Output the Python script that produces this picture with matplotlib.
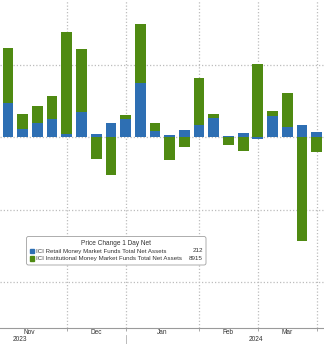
import numpy as np
import matplotlib.pyplot as plt
from matplotlib.patches import FancyBboxPatch, Rectangle

# weekly flows (USD bn)
retail = [23.9, 5.9, 9.7, 12.4, 2.1, 17.7, 2.5, 9.7, 12.4, 37.2, 4.6,
          1.4, 4.8, 8.3, 13.3, 0.7, 3.0, -1.5, 14.5, 7.1, 8.7, 3.7]
institutional = [37.9, 10.4, 11.7, 16.1, 70.3, 43.4, -14.8, -26.2, 3.2, 40.9, 5.5,
                 -15.9, -6.7, 32.8, 3.0, -5.3, -9.4, 50.3, 3.6, 23.7, -71.5, -10.1]
months = ['Nov', 'Dec', 'Jan', 'Feb', 'Mar']
month_pos = [1.43, 5.99, 10.48, 14.97, 18.98]
month_lines = [4, 8, 13, 17, 21]
years = ['2023', '2024']
year_pos = [0.8, 16.9]
legend_title = 'Price Change 1 Day Net'
legend_labels = ['ICI Retail Money Market Funds Total Net Assets',
                 'ICI Institutional Money Market Funds Total Net Assets']
legend_values = ['212', '8915']

blue = '#2e6fb3'
green = '#4f8a12'
font = 'Liberation Sans'

W, H = 324, 344
fig = plt.figure(figsize=(W / 100, H / 100), dpi=100)
ax = fig.add_axes([0, (H - 327.7) / H, 1, 327.7 / H])

x = np.arange(len(retail))
r = np.array(retail)
g = np.array(institutional)
g_bottom = np.where(g >= 0, np.maximum(r, 0), np.minimum(r, 0))

ax.bar(x, r, width=0.73, color=blue, zorder=3)
ax.bar(x, g, bottom=g_bottom, width=0.73, color=green, zorder=3)

ax.set_xlim(-0.544, 21.5)
ax.set_ylim(-131.3, 94.7)

for v in [50, 0, -50, -100]:
    ax.axhline(v, color='#bdbdbd', lw=0.9, ls=(0, (1, 1.6)), zorder=1)
for m in month_lines:
    ax.axvline(m, color='#bdbdbd', lw=0.9, ls=(0, (1, 1.6)), zorder=1)

for s in ['top', 'left', 'right']:
    ax.spines[s].set_visible(False)
ax.spines['bottom'].set_color('#9a9a9a')
ax.spines['bottom'].set_linewidth(0.8)
ax.set_yticks([])
ax.set_xticks(month_lines)
ax.set_xticklabels([])
ax.tick_params(axis='x', length=2.5, color='#9a9a9a', width=0.6)

def fx(px):
    return px / W

def fy(py):
    return 1 - py / H

for name, p in zip(months, month_pos):
    xf = ax.transData.transform((p, 0))[0] / W
    fig.text(xf, fy(332.5), name, ha='center', va='center', fontsize=4.7,
             family=font, color='#333333')
for name, p in zip(years, year_pos):
    xf = ax.transData.transform((p, 0))[0] / W
    fig.text(xf, fy(339.5), name, ha='center', va='center', fontsize=4.7,
             family=font, color='#333333')
fig.add_artist(plt.Line2D([fx(126), fx(126)], [fy(335), fy(344)],
                          color='#b0b0b0', lw=0.6))

# legend box
box = FancyBboxPatch((fx(26.5), fy(265)), fx(206) - fx(26.5), fy(236.5) - fy(265),
                     boxstyle='round,pad=0,rounding_size=0.006',
                     transform=fig.transFigure, facecolor='white',
                     edgecolor='#a0a0a0', lw=0.6, zorder=5)
fig.add_artist(box)
fig.text(fx(116), fy(243.5), legend_title, ha='center', va='center',
         fontsize=4.7, family=font, color='#333333', zorder=6)
for i, (lab, val, c) in enumerate(zip(legend_labels, legend_values, [blue, green])):
    yy = 251 + i * 7.3
    fig.add_artist(Rectangle((fx(29.5), fy(yy + 2.3)), fx(4.6), fy(0) - fy(4.6),
                             transform=fig.transFigure, color=c, zorder=6))
    fig.text(fx(36), fy(yy), lab, ha='left', va='center', fontsize=4.4,
             family=font, color='#333333', zorder=6)
    fig.text(fx(203), fy(yy), val, ha='right', va='center', fontsize=4.5,
             family=font, color='#333333', zorder=6)

fig.savefig('out.png', dpi=100)
